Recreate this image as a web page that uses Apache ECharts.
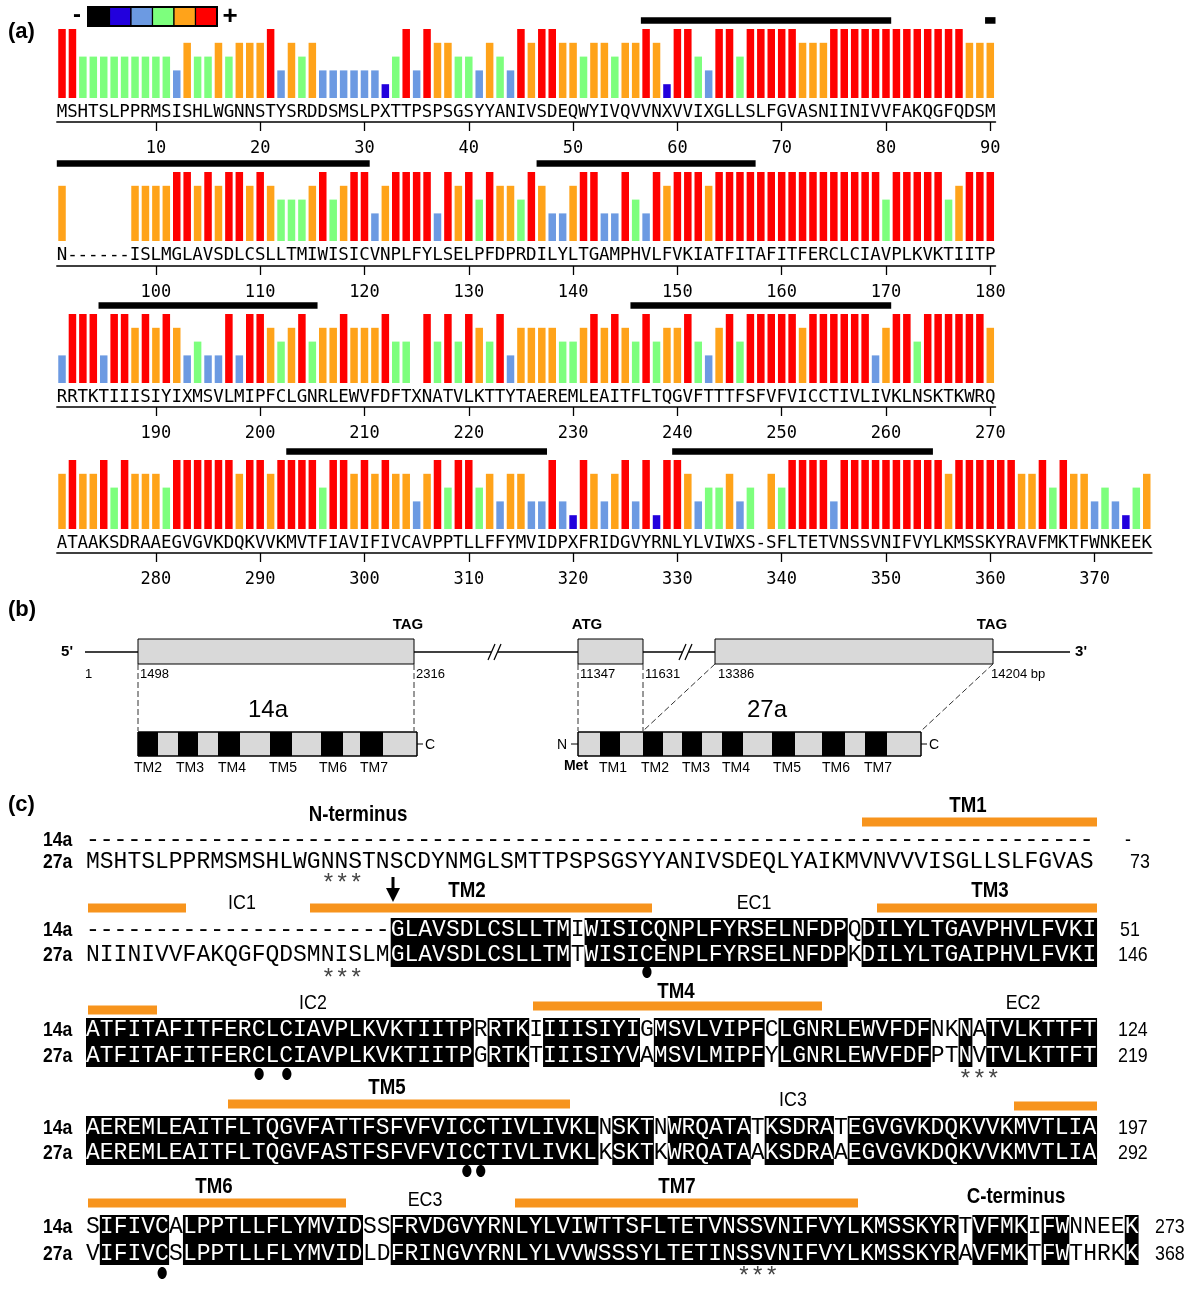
<!DOCTYPE html>
<html><head><meta charset="utf-8">
<script src="https://cdn.jsdelivr.net/npm/echarts@6/dist/echarts.min.js"></script>
<style>html,body{margin:0;padding:0;background:#fff}#c{width:1200px;height:1310px}</style>
</head><body><div id="c"></div>
<script>
// ---------- DATA: panel (a) ----------
const seqRow1 = "MSHTSLPPRMSISHLWGNNSTYSRDDSMSLPXTTPSPSGSYYANIVSDEQWYIVQVVNXVVIXGLLSLFGVASNIINIVVFAKQGFQDSM";
const seqRow2 = "N------ISLMGLAVSDLCSLLTMIWISICVNPLFYLSELPFDPRDILYLTGAMPHVLFVKIATFITAFITFERCLCIAVPLKVKTIITP";
const seqRow3 = "RRTKTIIISIYIXMSVLMIPFCLGNRLEWVFDFTXNATVLKTTYTAEREMLEAITFLTQGVFTTTFSFVFVICCTIVLIVKLNSKTKWRQ";
const seqRow4 = "ATAAKSDRAAEGVGVKDQKVVKMVTFIAVIFIVCAVPPTLLFFYMVIDPXFRIDGVYRNLYLVIWXS-SFLTETVNSSVNIFVYLKMSSKYRAVFMKTFWNKEEK";
const startRow = [1, 91, 181, 271];
// conservation level per residue (1..5), null = gap
const levelRow1 = [5,5,3,3,3,3,3,3,3,3, 3,2,4,3,3,4,3,4,4,4, 5,2,4,3,4,2,2,2,2,2, 2,1,3,5,2,5,4,4,3,3, 2,4,3,2,5,4,5,5,4,4, 3,4,4,3,4,4,5,4,1,5, 5,3,2,5,5,3,5,5,5,5, 5,4,4,4,5,5,5,5,5,5, 5,5,5,5,5,5,5,4,4,4];
const levelRow2 = [4,null,null,null,null,null,null,4,4,4, 4,5,5,4,5,4,5,5,4,5, 4,3,3,3,4,5,3,4,5,5, 2,4,5,5,5,5,2,5,4,5, 3,5,4,4,3,5,4,2,2,4, 5,5,2,2,5,3,2,5,4,5, 5,5,4,5,5,5,5,5,5,5, 5,5,5,5,5,5,5,5,5,3, 5,5,5,5,5,3,4,5,5,5];
const levelRow3 = [2,5,5,5,2,5,5,4,5,4, 5,4,2,3,2,2,5,2,5,5, 4,3,4,5,3,4,4,5,4,4, 4,5,3,3,null,5,3,5,3,5, 4,3,5,2,4,4,4,4,3,3, 4,5,4,5,4,3,5,3,4,4, 5,3,2,4,5,3,5,5,5,5, 5,4,5,5,5,5,5,5,2,4, 5,5,3,5,5,5,5,5,5,4];
const levelRow4 = [4,5,4,4,5,3,5,4,4,4, 3,5,5,5,5,5,5,4,5,5, 4,5,5,5,5,3,5,5,4,5, 4,5,4,4,2,4,5,3,5,5, 3,4,2,4,4,2,2,5,2,1, 5,4,2,4,5,2,5,1,5,5, 4,2,3,3,4,2,3,null,4,3, 5,5,5,5,2,5,5,5,5,5, 5,5,5,5,5,4,5,5,5,5, 5,5,4,4,5,3,5,4,4,2, 3,2,1,3,4];
// predicted transmembrane ranges (residue numbers)
const tmRanges = [[57,80],[90,120],[137,157],[185,205],[236,260],[293,317],[330,354]];
const levelColors = ['#000000','#2200dd','#6c9ae2','#7dff7d','#ffa31a','#ff0000'];

// ---------- DATA: panel (c) alignment ----------
const aln14 = [
  "-------------------------------------------------------------------------",
  "----------------------GLAVSDLCSLLTMIWISICQNPLFYRSELNFDPQDILYLTGAVPHVLFVKI",
  "ATFITAFITFERCLCIAVPLKVKTIITPRRTKIIIISIYIGMSVLVIPFCLGNRLEWVFDFNKNATVLKTTFT",
  "AEREMLEAITFLTQGVFATTFSFVFVICCTIVLIVKLNSKTNWRQATATKSDRATEGVGVKDQKVVKMVTLIA",
  "SIFIVCALPPTLLFLYMVIDSSFRVDGVYRNLYLVIWTTSFLTETVNSSVNIFVYLKMSSKYRTVFMKIFWNNEEK"
];
const aln27 = [
  "MSHTSLPPRMSMSHLWGNNSTNSCDYNMGLSMTTPSPSGSYYANIVSDEQLYAIKMVNVVVISGLLSLFGVAS",
  "NIINIVVFAKQGFQDSMNISLMGLAVSDLCSLLTMTWISICENPLFYRSELNFDPKDILYLTGAIPHVLFVKI",
  "ATFITAFITFERCLCIAVPLKVKTIITPGRTKTIIISIYVAMSVLMIPFYLGNRLEWVFDFPTNVTVLKTTFT",
  "AEREMLEAITFLTQGVFASTFSFVFVICCTIVLIVKLKSKTKWRQATAAKSDRAAEGVGVKDQKVVKMVTLIA",
  "VIFIVCSLPPTLLFLYMVIDLDFRINGVYRNLYLVVWSSSYLTETINSSVNIFVYLKMSSKYRAVFMKTFWTHRKK"
];
const num14 = ["-","51","124","197","273"];
const num27 = ["73","146","219","292","368"];
const identical = [
  [],
  [[22,34],[36,54],[56,72]],
  [[0,27],[29,31],[33,39],[41,48],[50,60],[63,63],[65,72]],
  [[0,36],[38,40],[42,47],[49,53],[55,72]],
  [[1,5],[7,19],[22,62],[64,67],[69,70],[75,75]]
];
const glycoSites = [[0,17],[1,17],[2,63],[4,47]];           // [block, first column] ***
const cysSites = [[1,40],[2,12],[2,14],[3,27],[3,28],[4,5]]; // [block, column] dots

// ---------- LAYOUT ----------
const unit = 10.43;
const gridTops = [29,172,314,460];
const axisOffsets = [24,25,24,24];
const rows = [
  {seq:seqRow1, lv:levelRow1, start:startRow[0]},
  {seq:seqRow2, lv:levelRow2, start:startRow[1]},
  {seq:seqRow3, lv:levelRow3, start:startRow[2]},
  {seq:seqRow4, lv:levelRow4, start:startRow[3]}
];
const SANS = '"Liberation Sans", Arial, sans-serif';
const MONO = '"DejaVu Sans Mono", monospace';

const grids=[], xAxes=[], yAxes=[], series=[];
rows.forEach((r,i)=>{
  const n = r.seq.length;
  grids.push({left:56.8, top:gridTops[i], width:n*unit, height:69});
  const nums = Array.from({length:n},(_,k)=>String(r.start+k));
  const every10 = (idx, val) => Number(val) % 10 === 0;
  xAxes.push({type:'category', gridIndex:i, data:r.seq.split(''), position:'bottom',
    axisLine:{show:false}, axisTick:{show:false}, splitLine:{show:false},
    axisLabel:{interval:0, fontFamily:MONO, fontSize:17.5, color:'#000', margin:5}});
  xAxes.push({type:'category', gridIndex:i, data:nums, position:'bottom', offset:axisOffsets[i],
    axisLine:{show:true, lineStyle:{color:'#000', width:1.5}},
    axisTick:{show:true, alignWithLabel:true, interval:every10, length:9, lineStyle:{color:'#000', width:1.3}},
    splitLine:{show:false},
    axisLabel:{interval:every10, fontFamily:MONO, fontSize:17, color:'#000', margin:18}});
  xAxes.push({type:'value', gridIndex:i, min:-0.5, max:n-0.5, show:false});
  yAxes.push({type:'value', gridIndex:i, min:0, max:5, show:false});
  series.push({type:'bar', xAxisIndex:3*i, yAxisIndex:i, barCategoryGap:'28%', silent:true,
    data:r.lv.map(v => v==null ? '-' : {value:v, itemStyle:{color:levelColors[v]}})});
  const tm=[];
  tmRanges.forEach(([a,b])=>{
    const s=Math.max(a,r.start), e=Math.min(b,r.start+n-1);
    if (s<=e) tm.push([s-r.start, e-r.start]);
  });
  series.push({type:'custom', xAxisIndex:3*i+2, yAxisIndex:i, clip:false, silent:true, data:tm,
    renderItem:(params, api)=>{
      const a = api.coord([api.value(0)-0.5, 5.62]);
      const b = api.coord([api.value(1)+0.5, 5.62]);
      return {type:'rect', shape:{x:a[0], y:a[1]-3.3, width:b[0]-a[0], height:6.6}, style:{fill:'#000'}};
    }});
});

// ---------- graphic helpers ----------
const G=[];
function txt(x,y,text,o){
  o=o||{};
  const el={type:'text', x:x, y:y, silent:true,
    style:{text:text, fill:o.fill||'#000', font:o.font||('14px '+SANS),
      align:o.align||'center', textAlign:o.align||'center',
      verticalAlign:'middle', textVerticalAlign:'middle'}};
  if (o.sx) el.scaleX=o.sx;
  G.push(el);
}
function rect(x,y,w,h,fill,stroke,lw){
  G.push({type:'rect', silent:true, shape:{x:x,y:y,width:w,height:h},
    style:{fill:fill, stroke:stroke||null, lineWidth:lw||0}});
}
function line(x1,y1,x2,y2,o){
  o=o||{};
  G.push({type:'line', silent:true, shape:{x1:x1,y1:y1,x2:x2,y2:y2},
    style:{stroke:o.stroke||'#000', lineWidth:o.lw||1, lineDash:o.dash||null}});
}

// panel labels
txt(8,32,'(a)',{font:'bold 22px '+SANS, align:'left'});
txt(8,610,'(b)',{font:'bold 22px '+SANS, align:'left'});
txt(8,805,'(c)',{font:'bold 22px '+SANS, align:'left'});

// legend (a)
txt(77,15,'-',{font:'bold 24px '+SANS});
levelColors.forEach((c,k)=>rect(88+k*21.5,7,21.5,19,c,'#000',1.2));
rect(88,7,129,19,null,'#000',2);
txt(230,17,'+',{font:'bold 26px '+SANS});

// ---------- panel (b) gene diagram ----------
const GY=652;
line(85,GY,491,GY,{lw:1.5}); line(498,GY,682,GY,{lw:1.5}); line(689,GY,1070,GY,{lw:1.5});
line(488,660,495,644,{lw:1.2}); line(494,660,501,644,{lw:1.2});
line(679,660,686,644,{lw:1.2}); line(685,660,692,644,{lw:1.2});
txt(67,652,"5'",{font:'bold 15px '+SANS});
txt(1081,652,"3'",{font:'bold 15px '+SANS});
[[138,414],[578,643],[715,993]].forEach(([a,b])=>rect(a,639,b-a,25,'#d9d9d9','#000',1));
txt(408,625,'TAG',{font:'bold 15px '+SANS});
txt(587,625,'ATG',{font:'bold 15px '+SANS});
txt(992,625,'TAG',{font:'bold 15px '+SANS});
[['1',85],['1498',140],['2316',416],['11347',580],['11631',645],['13386',718],['14204 bp',991]]
  .forEach(([t,x])=>txt(x,674,t,{font:'13px '+SANS, align:'left'}));
const dash={dash:[6,3], lw:1, stroke:'#333'};
line(138,664,138,731,dash); line(414,664,414,731,dash);
line(578,664,578,731,dash); line(643,664,643,731,dash);
line(715,664,643,731,dash); line(993,664,921,731,dash);
txt(268,710,'14a',{font:'24px '+SANS});
txt(767,710,'27a',{font:'24px '+SANS});
rect(138,732,279,24,'#d9d9d9','#000',1);
[[138,158],[178,198],[218,240],[270,292],[321,343],[360,383]].forEach(([a,b])=>rect(a,732,b-a,24,'#000'));
rect(138,732,279,24,null,'#000',1);
line(417,744,423,744); txt(425,745,'C',{font:'14px '+SANS, align:'left'});
rect(578,732,343,24,'#d9d9d9','#000',1);
[[600,620],[643,663],[682,702],[722,743],[772,795],[822,845],[865,887]].forEach(([a,b])=>rect(a,732,b-a,24,'#000'));
rect(578,732,343,24,null,'#000',1);
line(571,744,578,744); txt(562,745,'N',{font:'14px '+SANS});
line(921,744,927,744); txt(929,745,'C',{font:'14px '+SANS, align:'left'});
txt(576,766,'Met',{font:'bold 14px '+SANS});
[['TM2',148],['TM3',190],['TM4',232],['TM5',283],['TM6',333],['TM7',374]].forEach(([t,x])=>txt(x,768,t,{font:'14px '+SANS}));
[['TM1',613],['TM2',655],['TM3',696],['TM4',736],['TM5',787],['TM6',836],['TM7',878]].forEach(([t,x])=>txt(x,768,t,{font:'14px '+SANS}));

// ---------- panel (c) alignment ----------
const cw = 13.85, x0 = 86;
const MONO_C = '23px "Liberation Mono", monospace';
const blockLayout = [
  {y14:840, y27:862, top:0, bot:0, nx14:1125, nx27:1130},
  {y14:930, y27:955, top:918, bot:967, nx14:1120, nx27:1118},
  {y14:1030, y27:1056, top:1018, bot:1067, nx14:1118, nx27:1118},
  {y14:1128, y27:1153, top:1116, bot:1165, nx14:1118, nx27:1118},
  {y14:1227, y27:1254, top:1215, bot:1265, nx14:1155, nx27:1155}
];
function seqLine(str,y,hl){
  const inHL = k => hl.some(r=>k>=r[0]&&k<=r[1]);
  let s=0;
  for (let k=1;k<=str.length;k++){
    if (k===str.length || inHL(k)!==inHL(s)){
      txt(x0+s*cw, y, str.slice(s,k), {font:MONO_C, align:'left', fill:inHL(s)?'#fff':'#000'});
      s=k;
    }
  }
}
blockLayout.forEach((L,b)=>{
  identical[b].forEach(([a,e])=>rect(x0+a*cw, L.top, (e-a+1)*cw, L.bot-L.top, '#000'));
  txt(43,L.y14,'14a',{font:'bold 20px '+SANS, align:'left', sx:0.88});
  txt(43,L.y27,'27a',{font:'bold 20px '+SANS, align:'left', sx:0.88});
  seqLine(aln14[b], L.y14, identical[b]);
  seqLine(aln27[b], L.y27, identical[b]);
  txt(L.nx14, L.y14, num14[b], {font:'21px '+SANS, align:'left', sx:0.85});
  txt(L.nx27, L.y27, num27[b], {font:'21px '+SANS, align:'left', sx:0.85});
});
const starY=[883,978,1079,1176,1276];
glycoSites.forEach(([b,c])=>{ for(let k=0;k<3;k++) txt(x0+(c+k+0.5)*cw, starY[b], '*', {font:'24px '+SANS, fill:'#444'}); });
const dotY=[0,972,1074,1171,1273];
cysSites.forEach(([b,c])=>G.push({type:'ellipse', silent:true, shape:{cx:x0+(c+0.5)*cw, cy:dotY[b], rx:4.6, ry:6}, style:{fill:'#000'}}));
const ORANGE='#f7941d';
[[862,1097,822],[88,186,908],[310,652,908],[877,1097,908],[88,157,1010],[533,822,1006],[228,570,1104],[1014,1097,1106],[88,346,1203],[515,858,1203]]
  .forEach(([a,b,y])=>rect(a,y-4.5,b-a,9,ORANGE));
[['N-terminus',358,815],['TM1',968,806],['TM2',467,891],['TM3',990,891],['TM4',676,992],['TM5',387,1088],['TM6',214,1187],['TM7',677,1187],['C-terminus',1016,1197]]
  .forEach(([t,x,y])=>txt(x,y,t,{font:'bold 22px '+SANS, sx:0.85}));
[['IC1',242,903],['EC1',754,903],['IC2',313,1003],['EC2',1023,1003],['IC3',793,1100],['EC3',425,1200]]
  .forEach(([t,x,y])=>txt(x,y,t,{font:'21px '+SANS, sx:0.85}));
line(393,877,393,892,{lw:3});
G.push({type:'polygon', silent:true, shape:{points:[[386,888],[400,888],[393,902]]}, style:{fill:'#000'}});

const chart = echarts.init(document.getElementById('c'), null, {renderer:'canvas'});
chart.setOption({
  animation:false,
  backgroundColor:'#fff',
  grid:grids, xAxis:xAxes, yAxis:yAxes, series:series,
  graphic:{elements:G}
});
</script></body></html>
